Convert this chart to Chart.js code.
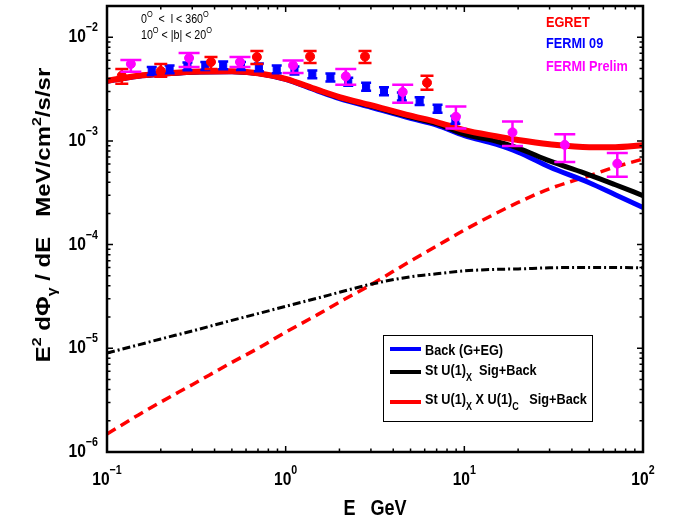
<!DOCTYPE html>
<html>
<head>
<meta charset="utf-8">
<script src="https://cdn.jsdelivr.net/npm/chart.js@4.4.1/dist/chart.umd.min.js"></script>
<style>
html, body { margin: 0; padding: 0; background: #fff; }
</style>
</head>
<body>
<canvas id="chart" width="684" height="522"></canvas>
<script>
// model curves, sampled at these energies (GeV)
const energy = [0.1, 0.15, 0.2, 0.3, 0.5, 0.7, 1, 1.5, 2, 3, 5, 7, 10, 15, 20, 30, 50, 70, 100];
const backCurve = [3.76e-3, 4.21e-3, 4.40e-3, 4.60e-3, 4.65e-3, 4.46e-3, 3.92e-3, 3.04e-3, 2.56e-3, 2.11e-3, 1.65e-3, 1.42e-3, 1.125e-3, 9.3e-4, 7.8e-4, 5.61e-4, 3.95e-4, 3.03e-4, 2.28e-4];
const stUxCurve = [3.79e-3, 4.24e-3, 4.43e-3, 4.63e-3, 4.68e-3, 4.48e-3, 3.96e-3, 3.10e-3, 2.62e-3, 2.17e-3, 1.70e-3, 1.47e-3, 1.16e-3, 9.95e-4, 8.53e-4, 6.41e-4, 4.71e-4, 3.78e-4, 2.97e-4];
const stUxUcCurve = [3.80e-3, 4.25e-3, 4.44e-3, 4.64e-3, 4.69e-3, 4.49e-3, 3.97e-3, 3.12e-3, 2.65e-3, 2.21e-3, 1.75e-3, 1.52e-3, 1.27e-3, 1.11e-3, 1.02e-3, 9.3e-4, 8.71e-4, 8.71e-4, 9.1e-4];
const sigUxCurve = [9.0e-6, 1.08e-5, 1.23e-5, 1.47e-5, 1.86e-5, 2.16e-5, 2.54e-5, 3.04e-5, 3.47e-5, 4.15e-5, 4.90e-5, 5.23e-5, 5.58e-5, 5.77e-5, 5.83e-5, 5.97e-5, 6.03e-5, 6.03e-5, 5.97e-5];
const sigUxUcCurve = [1.49e-6, 2.28e-6, 3.03e-6, 4.46e-6, 7.31e-6, 1.00e-5, 1.43e-5, 2.10e-5, 2.79e-5, 4.10e-5, 6.95e-5, 9.68e-5, 1.38e-4, 2.00e-4, 2.55e-4, 3.46e-4, 4.61e-4, 5.61e-4, 6.69e-4];

// measurements
const egretE = [0.121, 0.200, 0.382, 0.690, 1.37, 2.78, 6.18];
const egretFlux = [4.25e-3, 4.73e-3, 5.77e-3, 6.44e-3, 6.51e-3, 6.51e-3, 3.64e-3];
const egretHi = [4.95e-3, 5.52e-3, 6.44e-3, 7.35e-3, 7.35e-3, 7.35e-3, 4.25e-3];
const egretLo = [3.56e-3, 4.15e-3, 4.95e-3, 5.52e-3, 5.65e-3, 5.65e-3, 3.12e-3];

const fermi09E = [0.178, 0.224, 0.282, 0.355, 0.447, 0.562, 0.708, 0.891, 1.12, 1.41, 1.78, 2.24, 2.82, 3.55, 4.47, 5.62, 7.08, 8.91];
const fermi09Flux = [4.73e-3, 4.90e-3, 5.23e-3, 5.29e-3, 5.35e-3, 5.29e-3, 5.12e-3, 4.90e-3, 4.77e-3, 4.38e-3, 4.09e-3, 3.72e-3, 3.33e-3, 3.01e-3, 2.68e-3, 2.42e-3, 2.04e-3, 1.59e-3];
const fermi09Hi = [5.17e-3, 5.35e-3, 5.71e-3, 5.78e-3, 5.84e-3, 5.78e-3, 5.59e-3, 5.35e-3, 5.21e-3, 4.78e-3, 4.47e-3, 4.06e-3, 3.64e-3, 3.29e-3, 2.93e-3, 2.64e-3, 2.23e-3, 1.74e-3];
const fermi09Lo = [4.33e-3, 4.49e-3, 4.79e-3, 4.84e-3, 4.90e-3, 4.84e-3, 4.69e-3, 4.49e-3, 4.37e-3, 4.01e-3, 3.75e-3, 3.41e-3, 3.05e-3, 2.76e-3, 2.45e-3, 2.22e-3, 1.87e-3, 1.46e-3];

const prelimE = [0.136, 0.288, 0.555, 1.10, 2.17, 4.52, 8.97, 18.6, 36.5, 71.8];
const prelimFlux = [5.52e-3, 6.30e-3, 5.77e-3, 5.35e-3, 4.20e-3, 2.96e-3, 1.71e-3, 1.21e-3, 9.16e-4, 6.04e-4];
const prelimHi = [6.03e-3, 7.04e-3, 6.44e-3, 5.97e-3, 4.95e-3, 3.48e-3, 2.15e-3, 1.54e-3, 1.16e-3, 7.64e-4];
const prelimLo = [4.64e-3, 5.17e-3, 5.17e-3, 4.53e-3, 3.48e-3, 2.34e-3, 1.32e-3, 8.91e-4, 6.27e-4, 4.51e-4];

// axis decades
const xTickExp = [-1, 0, 1, 2];
const yTickExp = [-6, -5, -4, -3, -2];

const FONT = "'Liberation Sans', Arial, sans-serif";
const SQUISH = 0.82; // the original figure is narrowed horizontally

function pts(xs, ys) {
    return xs.map((x, i) => ({ x: x, y: ys[i] }));
}

// text made of pieces [{t, size, dy, bold}], so super/subscripts can be drawn
function runsWidth(ctx, runs) {
    let w = 0;
    runs.forEach(r => {
        ctx.font = (r.bold === false ? '' : 'bold ') + r.size + 'px ' + FONT;
        w += ctx.measureText(r.t).width;
    });
    return w;
}

function drawRuns(ctx, runs, x, y, align, color, rotate) {
    ctx.save();
    ctx.translate(x, y);
    ctx.scale(SQUISH, 1);
    if (rotate) ctx.rotate(-Math.PI / 2);
    ctx.fillStyle = color || '#000';
    ctx.textBaseline = 'alphabetic';
    ctx.textAlign = 'left';
    const w = runsWidth(ctx, runs);
    let cx = align === 'center' ? -w / 2 : align === 'right' ? -w : 0;
    runs.forEach(r => {
        ctx.font = (r.bold === false ? '' : 'bold ') + r.size + 'px ' + FONT;
        ctx.fillText(r.t, cx, r.dy || 0);
        cx += ctx.measureText(r.t).width;
    });
    ctx.restore();
}

const errorBars = {
    id: 'errorBars',
    beforeDatasetDraw(chart, args) {
        const ds = chart.data.datasets[args.index];
        if (!ds.errLo) return;
        const { ctx, scales: { x, y } } = chart;
        ctx.save();
        ctx.strokeStyle = ds.borderColor;
        ctx.lineWidth = ds.errWidth;
        ds.data.forEach((p, i) => {
            const px = x.getPixelForValue(p.x);
            const top = y.getPixelForValue(ds.errHi[i]);
            const bot = y.getPixelForValue(ds.errLo[i]);
            const c = ds.capWidth / 2;
            ctx.beginPath();
            ctx.moveTo(px, top); ctx.lineTo(px, bot);
            ctx.moveTo(px - c, top); ctx.lineTo(px + c, top);
            ctx.moveTo(px - c, bot); ctx.lineTo(px + c, bot);
            ctx.stroke();
        });
        ctx.restore();
    }
};

const decor = {
    id: 'decor',
    afterDraw(chart) {
        const { ctx, chartArea: a, scales: { x, y } } = chart;
        ctx.save();

        // ticks, inward on all four sides
        ctx.strokeStyle = '#000';
        ctx.lineWidth = 1.5;
        ctx.beginPath();
        xTickExp.forEach(e => {
            for (let m = 1; m <= 9; m++) {
                const v = m * Math.pow(10, e);
                if (v > x.max * 1.0001) break;
                const px = x.getPixelForValue(v);
                const len = m === 1 ? 6 : 3.5;
                ctx.moveTo(px, a.bottom); ctx.lineTo(px, a.bottom - len);
                ctx.moveTo(px, a.top); ctx.lineTo(px, a.top + len);
            }
        });
        yTickExp.forEach(e => {
            for (let m = 1; m <= 9; m++) {
                const v = m * Math.pow(10, e);
                if (v > y.max * 1.0001) break;
                const py = y.getPixelForValue(v);
                const len = m === 1 ? 6 : 3.5;
                ctx.moveTo(a.left, py); ctx.lineTo(a.left + len, py);
                ctx.moveTo(a.right, py); ctx.lineTo(a.right - len, py);
            }
        });
        ctx.stroke();

        // frame
        ctx.lineWidth = 2.5;
        ctx.strokeRect(a.left, a.top, a.right - a.left, a.bottom - a.top);

        // tick labels
        xTickExp.forEach(e => {
            const px = x.getPixelForValue(Math.pow(10, e));
            drawRuns(ctx, [
                { t: '10', size: 19 },
                { t: String(e).replace('-', '\u2212'), size: 13, dy: -11 }
            ], px, a.bottom + 33, 'center');
        });
        yTickExp.forEach(e => {
            const py = y.getPixelForValue(Math.pow(10, e));
            drawRuns(ctx, [
                { t: '10', size: 19 },
                { t: String(e).replace('-', '\u2212'), size: 13, dy: -11 }
            ], a.left - 9, py + 5, 'right');
        });

        // axis titles
        drawRuns(ctx, [{ t: 'E   GeV', size: 22 }], (a.left + a.right) / 2, 515, 'center');
        drawRuns(ctx, [
            { t: 'E', size: 24 },
            { t: '2', size: 16, dy: -11 },
            { t: ' d\u03A6', size: 24 },
            { t: '\u03B3', size: 16, dy: 7 },
            { t: ' / dE   MeV/cm', size: 24 },
            { t: '2', size: 16, dy: -11 },
            { t: '/s/sr', size: 24 }
        ], 50, 215, 'center', '#000', true);

        // sky region note
        drawRuns(ctx, [
            { t: '0', size: 13, bold: false },
            { t: 'O', size: 9, dy: -6, bold: false },
            { t: '  <  l < 360', size: 13, bold: false },
            { t: 'O', size: 9, dy: -6, bold: false }
        ], 141, 23, 'left');
        drawRuns(ctx, [
            { t: '10', size: 13, bold: false },
            { t: 'O', size: 9, dy: -6, bold: false },
            { t: ' < |b| < 20', size: 13, bold: false },
            { t: 'O', size: 9, dy: -6, bold: false }
        ], 141, 39, 'left');

        // data legend
        drawRuns(ctx, [{ t: 'EGRET', size: 15.5 }], 546, 27, 'left', '#ff0000');
        drawRuns(ctx, [{ t: 'FERMI 09', size: 15.5 }], 546, 48, 'left', '#0000ff');
        drawRuns(ctx, [{ t: 'FERMI Prelim', size: 15.5 }], 546, 71, 'left', '#ff00ff');

        // model legend box
        ctx.fillStyle = '#fff';
        ctx.fillRect(383, 335, 209, 86);
        ctx.lineWidth = 1;
        ctx.strokeStyle = '#000';
        ctx.strokeRect(383.5, 335.5, 209, 86);
        const rows = [
            { color: '#0000ff', ly: 349, ty: 355, runs: [{ t: 'Back (G+EG)', size: 15.5 }] },
            { color: '#000000', ly: 372, ty: 375, runs: [
                { t: 'St U(1)', size: 15.5 }, { t: 'X', size: 11, dy: 6 }, { t: '  Sig+Back', size: 15.5 }] },
            { color: '#ff0000', ly: 402, ty: 404, runs: [
                { t: 'St U(1)', size: 15.5 }, { t: 'X', size: 11, dy: 6 }, { t: ' X U(1)', size: 15.5 },
                { t: 'C', size: 11, dy: 6 }, { t: '   Sig+Back', size: 15.5 }] }
        ];
        rows.forEach(r => {
            ctx.strokeStyle = r.color;
            ctx.lineWidth = 4;
            ctx.beginPath();
            ctx.moveTo(390, r.ly); ctx.lineTo(421, r.ly);
            ctx.stroke();
            drawRuns(ctx, r.runs, 425, r.ty, 'left');
        });

        ctx.restore();
    }
};

const ctx = document.getElementById('chart').getContext('2d');
new Chart(ctx, {
    type: 'line',
    data: {
        datasets: [
            {
                label: 'FERMI Prelim', data: pts(prelimE, prelimFlux), showLine: false,
                pointStyle: 'circle', pointRadius: 4.5, backgroundColor: '#ff00ff', borderColor: '#ff00ff',
                errHi: prelimHi, errLo: prelimLo, capWidth: 21, errWidth: 2.5, order: 0
            },
            {
                label: 'EGRET', data: pts(egretE, egretFlux), showLine: false,
                pointStyle: 'circle', pointRadius: 4.5, backgroundColor: '#ff0000', borderColor: '#ff0000',
                errHi: egretHi, errLo: egretLo, capWidth: 13, errWidth: 2.5, order: 1
            },
            {
                label: 'FERMI 09', data: pts(fermi09E, fermi09Flux), showLine: false,
                pointStyle: 'rect', pointRadius: 5, backgroundColor: '#0000ff', borderColor: '#0000ff',
                errHi: fermi09Hi, errLo: fermi09Lo, capWidth: 10, errWidth: 2.5, order: 2
            },
            {
                label: 'St U(1)X X U(1)C Sig+Back', data: pts(energy, stUxUcCurve),
                borderColor: '#ff0000', borderWidth: 6, pointRadius: 0, cubicInterpolationMode: 'monotone', order: 3
            },
            {
                label: 'St U(1)X Sig+Back', data: pts(energy, stUxCurve),
                borderColor: '#000000', borderWidth: 5, pointRadius: 0, cubicInterpolationMode: 'monotone', order: 4
            },
            {
                label: 'Back (G+EG)', data: pts(energy, backCurve),
                borderColor: '#0000ff', borderWidth: 5, pointRadius: 0, cubicInterpolationMode: 'monotone', order: 5
            },
            {
                label: 'St U(1)X signal', data: pts(energy, sigUxCurve),
                borderColor: '#000000', borderWidth: 3, borderDash: [8, 3, 2, 3], pointRadius: 0,
                cubicInterpolationMode: 'monotone', order: 6
            },
            {
                label: 'St U(1)X X U(1)C signal', data: pts(energy, sigUxUcCurve),
                borderColor: '#ff0000', borderWidth: 3.5, borderDash: [10, 6], pointRadius: 0,
                cubicInterpolationMode: 'monotone', order: 7
            }
        ]
    },
    options: {
        responsive: false,
        animation: false,
        layout: { padding: { left: 107, right: 41, top: 3, bottom: 70 } },
        plugins: { legend: { display: false }, tooltip: { enabled: false } },
        scales: {
            x: { type: 'logarithmic', min: 0.1, max: 100, display: false },
            y: { type: 'logarithmic', min: 1e-6, max: 0.02, display: false }
        }
    },
    plugins: [errorBars, decor]
});
</script>
</body>
</html>
